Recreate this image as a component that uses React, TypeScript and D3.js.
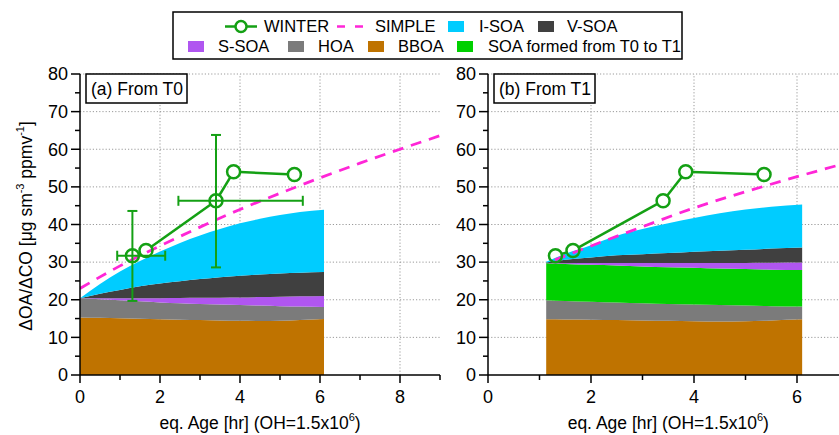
import React from "react";
import * as d3 from "d3";

// ---------- data ----------
const xsA = [0, 0.5, 1, 1.5, 2, 2.5, 3, 3.5, 4, 4.5, 5, 5.5, 6.1];
const bboaA = [15.3, 15.2, 15.1, 14.95, 14.8, 14.7, 14.6, 14.5, 14.4, 14.35, 14.4, 14.6, 14.9];
const hoaA = [5.1, 4.95, 4.8, 4.65, 4.5, 4.4, 4.3, 4.25, 4.2, 4.1, 3.9, 3.6, 3.2];
const ssoaA = [0, 0.25, 0.5, 0.8, 1.1, 1.35, 1.6, 1.8, 2.0, 2.25, 2.5, 2.7, 2.9];
const vsoaA = [0, 1.2, 2.2, 3.2, 3.9, 4.45, 5.0, 5.45, 5.8, 6.0, 6.2, 6.3, 6.4];
const isoaA = [0, 2.6, 4.9, 6.7, 8.5, 10.2, 11.6, 12.8, 13.9, 14.8, 15.5, 16.1, 16.5];

const xsB = [1.13, 1.5, 2, 2.5, 3, 3.5, 4, 4.5, 5, 5.5, 6.1];
const bboaB = [14.8, 14.75, 14.7, 14.6, 14.5, 14.4, 14.3, 14.25, 14.3, 14.5, 14.8];
const hoaB = [5.1, 4.95, 4.8, 4.7, 4.6, 4.5, 4.45, 4.35, 4.15, 3.8, 3.4];
const soaT0T1B = [9.8, 9.8, 9.8, 9.8, 9.75, 9.75, 9.75, 9.7, 9.7, 9.7, 9.7];
const ssoaB = [0, 0.2, 0.45, 0.7, 0.9, 1.1, 1.3, 1.5, 1.65, 1.85, 2.0];
const vsoaB = [0.2, 0.9, 1.5, 2.0, 2.35, 2.65, 2.95, 3.25, 3.5, 3.75, 4.0];
const isoaB = [0.2, 1.6, 3.25, 5.2, 6.7, 7.9, 8.95, 9.95, 10.7, 11.1, 11.4];

const simpleXA = [0, 1, 2, 3, 4, 5, 6, 7, 8, 9];
const simpleYA = [23.0, 29.0, 34.3, 39.3, 44.0, 48.3, 52.4, 56.3, 60.0, 63.6];
const simpleXB = [1.3, 2, 3, 4, 5, 6, 7];
const simpleYB = [30.6, 34.3, 39.4, 44.4, 48.7, 52.7, 56.5];

const winterX = [1.31, 1.65, 3.4, 3.84, 5.36];
const winterY = [31.7, 33.1, 46.3, 54.0, 53.3];
// error bars (panel a only): index, x low/high, y low/high
const errIdx = [0, 2];
const errXLow = [0.93, 2.46];
const errXHigh = [2.13, 5.57];
const errYLow = [19.7, 28.6];
const errYHigh = [43.6, 63.8];

const yTicks = [0, 10, 20, 30, 40, 50, 60, 70, 80];
const xTicksA = [0, 2, 4, 6, 8];
const xTicksB = [0, 2, 4, 6];

// ---------- styles ----------
const C = {
  bboa: "#BF7300",
  hoa: "#7B7B7B",
  ssoa: "#B056F0",
  vsoa: "#404040",
  isoa: "#00CCFF",
  soa01: "#00D000",
  winter: "#14A014",
  simple: "#FF26D7",
};
const FONT = "'Liberation Sans', Arial, Helvetica, sans-serif";

const yScale = d3.scaleLinear().domain([0, 80]).range([375, 74]);

type PanelProps = {
  x: d3.ScaleLinear<number, number>;
  xTicks: number[];
  xMax: number;
  keys: string[];
  cols: Record<string, number[]>;
  xs: number[];
  simpleX: number[];
  simpleY: number[];
  errors: boolean;
  label: string;
  labelX: number;
  clipId: string;
};

function Panel(p: PanelProps) {
  const { x } = p;
  const y = yScale;
  const rows = p.xs.map((xv, i) => {
    const r: any = { x: xv };
    p.keys.forEach((k) => (r[k] = p.cols[k][i]));
    return r;
  });
  const series = d3.stack<any>().keys(p.keys)(rows);
  const area = d3
    .area<any>()
    .x((d) => x(d.data.x))
    .y0((d) => y(d[0]))
    .y1((d) => y(d[1]))
    .curve(d3.curveMonotoneX);
  const simpleLine = d3
    .line<number>()
    .x((_, i) => x(p.simpleX[i]))
    .y((d) => y(d))
    .curve(d3.curveMonotoneX)(p.simpleY);

  const x0 = x(0);
  const x1 = x(p.xMax);
  const minorX = d3.range(1, p.xMax + 0.01, 2);
  const minorY = d3.range(5, 80, 10);
  const r = 6.5;
  const pts = winterX.map((xv, i) => [x(xv), y(winterY[i])]);
  const segs = pts.slice(1).map((b, i) => {
    const a = pts[i];
    const dx = b[0] - a[0];
    const dy = b[1] - a[1];
    const L = Math.hypot(dx, dy);
    const ux = dx / L;
    const uy = dy / L;
    return [a[0] + ux * r, a[1] + uy * r, b[0] - ux * r, b[1] - uy * r];
  });

  return (
    <g>
      <defs>
        <clipPath id={p.clipId}>
          <rect x={x0} y={y(80) - 2} width={x1 - x0} height={y(0) - y(80) + 2} />
        </clipPath>
      </defs>
      {/* grid */}
      <g stroke="#9a9a9a" strokeWidth={1} strokeDasharray="1.2,2">
        {yTicks.slice(1).map((t) => (
          <line key={"gy" + t} x1={x0} x2={x1} y1={y(t)} y2={y(t)} />
        ))}
        {p.xTicks.slice(1).map((t) => (
          <line key={"gx" + t} x1={x(t)} x2={x(t)} y1={y(0)} y2={y(80)} />
        ))}
      </g>
      {/* stacked areas */}
      <g>
        {series.map((s) => (
          <path key={s.key} d={area(s) || ""} fill={(C as any)[s.key]} stroke="none" />
        ))}
      </g>
      {/* simple */}
      <g clipPath={`url(#${p.clipId})`}>
        <path d={simpleLine || ""} fill="none" stroke={C.simple} strokeWidth={2.8} strokeDasharray="11,8" />
      </g>
      {/* winter */}
      <g stroke={C.winter} strokeWidth={2.5} fill="none">
        {segs.map((s, i) => (
          <line key={"s" + i} x1={s[0]} y1={s[1]} x2={s[2]} y2={s[3]} />
        ))}
        {pts.map((pt, i) => (
          <circle key={"c" + i} cx={pt[0]} cy={pt[1]} r={r} />
        ))}
      </g>
      {p.errors && (
        <g stroke={C.winter} strokeWidth={2}>
          {errIdx.map((idx, j) => {
            const cx = x(winterX[idx]);
            const cy = y(winterY[idx]);
            const ylo = y(errYLow[j]);
            const yhi = y(errYHigh[j]);
            const xlo = x(errXLow[j]);
            const xhi = x(errXHigh[j]);
            return (
              <g key={"e" + j}>
                <line x1={cx} x2={cx} y1={ylo} y2={yhi} />
                <line x1={cx - 5} x2={cx + 5} y1={ylo} y2={ylo} />
                <line x1={cx - 5} x2={cx + 5} y1={yhi} y2={yhi} />
                <line x1={xlo} x2={xhi} y1={cy} y2={cy} />
                <line x1={xlo} x2={xlo} y1={cy - 5} y2={cy + 5} />
                <line x1={xhi} x2={xhi} y1={cy - 5} y2={cy + 5} />
              </g>
            );
          })}
        </g>
      )}
      {/* axes */}
      <g stroke="#000" strokeWidth={1.5}>
        <line x1={x0} x2={x0} y1={y(0)} y2={y(80)} />
        <line x1={x0} x2={x1} y1={y(0)} y2={y(0)} />
        {yTicks.map((t) => (
          <line key={"ty" + t} x1={x0 - 9} x2={x0} y1={y(t)} y2={y(t)} />
        ))}
        {minorY.map((t) => (
          <line key={"my" + t} x1={x0 - 5} x2={x0} y1={y(t)} y2={y(t)} />
        ))}
        {p.xTicks.map((t) => (
          <line key={"tx" + t} x1={x(t)} x2={x(t)} y1={y(0)} y2={y(0) + 8} />
        ))}
        {minorX.map((t) => (
          <line key={"mx" + t} x1={x(t)} x2={x(t)} y1={y(0)} y2={y(0) + 5} />
        ))}
      </g>
      <g fontFamily={FONT} fontSize={18} fill="#000">
        {yTicks.map((t) => (
          <text key={"ly" + t} x={x0 - 12} y={y(t)} dy="0.35em" textAnchor="end">
            {t}
          </text>
        ))}
        {p.xTicks.map((t) => (
          <text key={"lx" + t} x={x(t)} y={403} textAnchor="middle">
            {t}
          </text>
        ))}
      </g>
      <text x={(x0 + x1) / 2} y={429} textAnchor="middle" fontFamily={FONT} fontSize={17.5}>
        eq. Age [hr] (OH=1.5x10
        <tspan fontSize={11} dy={-8}>6</tspan>
        <tspan dy={8}>)</tspan>
      </text>
      {/* panel label */}
      <rect x={p.labelX} y={74} width={101} height={29} fill="#fff" stroke="#000" strokeWidth={1.5} />
      <text x={p.labelX + 5} y={95} fontFamily={FONT} fontSize={17.5}>
        {p.label}
      </text>
    </g>
  );
}

function Legend() {
  const sw = (x: number, y: number, c: string) => <rect x={x} y={y} width={16} height={11} fill={c} />;
  const t = (x: number, y: number, s: string) => (
    <text x={x} y={y} fontFamily={FONT} fontSize={16.5}>
      {s}
    </text>
  );
  return (
    <g>
      <rect x={173} y={12} width={509} height={47} fill="#fff" stroke="#000" strokeWidth={1.5} />
      <line x1={225} x2={257} y1={26.5} y2={26.5} stroke={C.winter} strokeWidth={2.5} />
      <circle cx={241} cy={26.5} r={5.5} fill="#fff" stroke={C.winter} strokeWidth={2.5} />
      {t(264, 32, "WINTER")}
      <line x1={337} x2={363} y1={26.5} y2={26.5} stroke={C.simple} strokeWidth={2.5} strokeDasharray="8,10" />
      {t(375, 32, "SIMPLE")}
      {sw(448, 21, C.isoa)}
      {t(479, 32, "I-SOA")}
      {sw(538, 21, C.vsoa)}
      {t(567, 32, "V-SOA")}
      {sw(188, 41, C.ssoa)}
      {t(218, 52, "S-SOA")}
      {sw(288, 41, C.hoa)}
      {t(318, 52, "HOA")}
      {sw(368, 41, C.bboa)}
      {t(398, 52, "BBOA")}
      {sw(457, 41, C.soa01)}
      {t(488, 52, "SOA formed from T0 to T1")}
    </g>
  );
}

export default function App() {
  const xA = d3.scaleLinear().domain([0, 9]).range([80, 440]);
  const xB = d3.scaleLinear().domain([0, 7]).range([488, 848.5]);
  const colsA = { bboa: bboaA, hoa: hoaA, ssoa: ssoaA, vsoa: vsoaA, isoa: isoaA };
  const colsB = { bboa: bboaB, hoa: hoaB, soa01: soaT0T1B, ssoa: ssoaB, vsoa: vsoaB, isoa: isoaB };
  return (
    <svg
      width={839}
      height={435}
      style={{ position: "absolute", left: 0, top: 0, background: "#fff" }}
      xmlns="http://www.w3.org/2000/svg"
    >
      <rect x={0} y={0} width={839} height={435} fill="#fff" />
      <Panel
        x={xA}
        xTicks={xTicksA}
        xMax={9}
        keys={["bboa", "hoa", "ssoa", "vsoa", "isoa"]}
        cols={colsA}
        xs={xsA}
        simpleX={simpleXA}
        simpleY={simpleYA}
        errors={true}
        label="(a) From T0"
        labelX={86}
        clipId="clipA"
      />
      <Panel
        x={xB}
        xTicks={xTicksB}
        xMax={7}
        keys={["bboa", "hoa", "soa01", "ssoa", "vsoa", "isoa"]}
        cols={colsB}
        xs={xsB}
        simpleX={simpleXB}
        simpleY={simpleYB}
        errors={false}
        label="(b) From T1"
        labelX={494}
        clipId="clipB"
      />
      <text
        transform="translate(32,226) rotate(-90)"
        textAnchor="middle"
        fontFamily={FONT}
        fontSize={17.5}
      >
        ΔOA/ΔCO [μg sm
        <tspan fontSize={11} dy={-8}>-3</tspan>
        <tspan dy={8}> ppmv</tspan>
        <tspan fontSize={11} dy={-8}>-1</tspan>
        <tspan dy={8}>]</tspan>
      </text>
      <Legend />
    </svg>
  );
}
